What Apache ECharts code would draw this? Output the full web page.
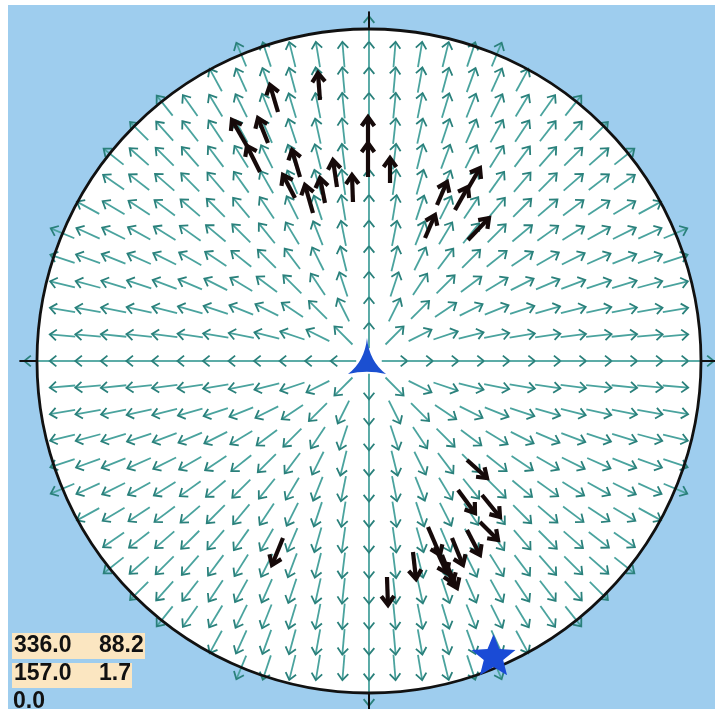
<!DOCTYPE html>
<html>
<head>
<meta charset="utf-8">
<title>stereonet</title>
<script src="https://cdn.jsdelivr.net/npm/echarts@6/dist/echarts.min.js"></script>
<style>
html,body{margin:0;padding:0;background:#fff;}
#main{width:715px;height:709px;}
</style>
</head>
<body>
<div id="main"></div>
<script>
// black slip arrows: [tail x, tail y, head x, head y], net radius = 100
var slipTop = [
 [-14.76, 78.61, -15.36, 86.75],
 [-27.41, 75.00, -29.82, 83.13],
 [-36.75, 64.76, -41.27, 72.59],
 [-32.83, 56.93, -36.75, 64.76],
 [-30.42, 65.66, -33.43, 73.19],
 [-20.78, 55.42, -23.19, 63.55],
 [-22.29, 49.10, -25.90, 56.02],
 [-16.87, 44.58, -19.28, 53.01],
 [-13.25, 47.59, -14.76, 55.12],
 [-9.64, 52.41, -10.84, 60.54],
 [-4.82, 47.89, -5.12, 56.02],
 [-0.30, 65.66, -0.30, 73.49],
 [-0.30, 55.42, -0.30, 65.66],
 [6.33, 53.61, 6.33, 61.14]
];
var slipRight = [
 [20.48, 46.99, 23.49, 53.92],
 [16.87, 37.05, 19.88, 43.98],
 [29.22, 50.90, 33.43, 58.13],
 [25.90, 45.48, 29.82, 52.41],
 [29.82, 36.45, 36.14, 43.07]
];
var slipBottom = [
 [29.52, -29.82, 35.54, -35.24],
 [26.81, -38.86, 31.93, -45.78],
 [34.04, -40.36, 39.46, -46.99],
 [33.43, -48.49, 38.86, -53.92],
 [29.52, -50.90, 33.43, -58.43],
 [25.00, -53.31, 28.31, -61.45],
 [17.77, -50.00, 21.39, -58.43],
 [19.88, -56.02, 23.49, -63.86],
 [21.99, -58.43, 25.30, -66.87],
 [23.49, -61.45, 26.51, -68.37],
 [13.25, -57.53, 14.16, -65.66],
 [5.42, -65.06, 5.72, -73.49],
 [-25.90, -53.31, -29.22, -61.45]
];
var axisTriangle = [[-0.6, 1.5]];
var axisStar = [[37.5, -88.5]];
var trendLabels = ['336.0', '157.0', '0.0'];
var plungeLabels = ['88.2', '1.7'];
var netRadius = 100;
var fieldSteps = 13;

var step = netRadius / fieldSteps;
var fieldData = [];
for (var i = -fieldSteps; i <= fieldSteps; i++) {
  for (var j = -fieldSteps; j <= fieldSteps; j++) {
    var fx = i * step, fy = j * step;
    if ((i || j) && Math.sqrt(fx * fx + fy * fy) <= netRadius + 0.01) fieldData.push([fx, fy]);
  }
}

function arrowShape(p0, p1, headLen, headAng, color, width, headColor) {
  var a = Math.atan2(p1[1] - p0[1], p1[0] - p0[0]);
  var w1 = [p1[0] - headLen * Math.cos(a - headAng), p1[1] - headLen * Math.sin(a - headAng)];
  var w2 = [p1[0] - headLen * Math.cos(a + headAng), p1[1] - headLen * Math.sin(a + headAng)];
  return {
    type: 'group',
    children: [
      {type: 'line', shape: {x1: p0[0], y1: p0[1], x2: p1[0], y2: p1[1]}, style: {stroke: color, lineWidth: width}},
      {type: 'polyline', shape: {points: [w1, p1, w2]}, style: {stroke: headColor || color, lineWidth: width, fill: null, lineJoin: 'miter'}}
    ]
  };
}

function slipSeries(name, data) {
  return {
    name: name,
    type: 'custom',
    z: 5,
    silent: true,
    data: data,
    renderItem: function (params, api) {
      var p0 = api.coord([api.value(0), api.value(1)]);
      var p1 = api.coord([api.value(2), api.value(3)]);
      return arrowShape(p0, p1, 11, 0.62, '#160a0a', 4.2);
    }
  };
}

var myChart = echarts.init(document.getElementById('main'));

var option = {
  animation: false,
  grid: {left: 8, top: 5, right: 0, bottom: 0, show: true, backgroundColor: '#9ecdee', borderWidth: 0},
  xAxis: {type: 'value', min: -108.73, max: 104.22, show: false},
  yAxis: {type: 'value', min: -104.82, max: 107.23, show: false},
  series: [
    {
      // white net
      type: 'custom',
      z: 1,
      silent: true,
      data: [[0, 0]],
      renderItem: function (params, api) {
        var c = api.coord([0, 0]);
        var r = api.size([netRadius, 0])[0];
        return {type: 'circle', shape: {cx: c[0], cy: c[1], r: r}, style: {fill: '#ffffff', stroke: null}};
      }
    },
    {
      // radial field
      type: 'custom',
      z: 2,
      silent: true,
      data: fieldData,
      renderItem: function (params, api) {
        var x = api.value(0), y = api.value(1);
        var d = Math.sqrt(x * x + y * y);
        var ux = x / d, uy = y / d, h = step / 2;
        var p0 = api.coord([x - ux * h, y - uy * h]);
        var p1 = api.coord([x + ux * h, y + uy * h]);
        return arrowShape(p0, p1, 8.5, 0.68, '#4aa39e', 1.8, '#2a807b');
      }
    },
    {
      // border and N/E/S/W ticks
      type: 'custom',
      z: 3,
      silent: true,
      data: [[0, 0]],
      renderItem: function (params, api) {
        var c = api.coord([0, 0]);
        var r = api.size([netRadius, 0])[0];
        var t = api.size([5.3, 0])[0];
        return {
          type: 'group',
          children: [
            {type: 'circle', shape: {cx: c[0], cy: c[1], r: r}, style: {fill: null, stroke: '#111', lineWidth: 2.8}},
            {type: 'line', shape: {x1: c[0], y1: c[1] - r, x2: c[0], y2: c[1] - r - t}, style: {stroke: '#111', lineWidth: 2}},
            {type: 'line', shape: {x1: c[0], y1: c[1] + r, x2: c[0], y2: c[1] + r + t}, style: {stroke: '#111', lineWidth: 2}},
            {type: 'line', shape: {x1: c[0] - r, y1: c[1], x2: c[0] - r - t, y2: c[1]}, style: {stroke: '#111', lineWidth: 2}},
            {type: 'line', shape: {x1: c[0] + r, y1: c[1], x2: c[0] + r + t, y2: c[1]}, style: {stroke: '#111', lineWidth: 2}}
          ]
        };
      }
    },
    slipSeries('top', slipTop),
    slipSeries('right', slipRight),
    slipSeries('bottom', slipBottom),
    {
      type: 'scatter',
      z: 6,
      silent: true,
      symbol: 'path://M50,0 Q56,62 100,96 Q50,84 0,96 Q44,62 50,0 Z',
      symbolSize: [38, 36],
      itemStyle: {color: '#1b4fd1', opacity: 1},
      data: axisTriangle
    },
    {
      type: 'scatter',
      z: 6,
      silent: true,
      symbol: 'path://M50,0 L62.93,32.2 L97.55,34.55 L70.92,56.8 L79.39,90.45 L50,72 L20.61,90.45 L29.08,56.8 L2.45,34.55 L37.07,32.2 Z',
      symbolSize: [44, 41],
      itemStyle: {color: '#1a4bd6', opacity: 1},
      data: axisStar
    }
  ],
  graphic: [
    {type: 'rect', shape: {x: 12, y: 633, width: 133, height: 26}, style: {fill: '#fbe6c1'}, z: 10},
    {type: 'rect', shape: {x: 12, y: 663, width: 120, height: 25}, style: {fill: '#fbe6c1'}, z: 10},
    {type: 'text', x: 14, y: 634, z: 11, style: {text: trendLabels[0], font: 'bold 23px "Liberation Sans", Arial', fill: '#111'}},
    {type: 'text', x: 99, y: 634, z: 11, style: {text: plungeLabels[0], font: 'bold 23px "Liberation Sans", Arial', fill: '#111'}},
    {type: 'text', x: 14, y: 662, z: 11, style: {text: trendLabels[1], font: 'bold 23px "Liberation Sans", Arial', fill: '#111'}},
    {type: 'text', x: 99, y: 662, z: 11, style: {text: plungeLabels[1], font: 'bold 23px "Liberation Sans", Arial', fill: '#111'}},
    {type: 'text', x: 13, y: 690, z: 11, style: {text: trendLabels[2], font: 'bold 23px "Liberation Sans", Arial', fill: '#111'}}
  ]
};

myChart.setOption(option);
</script>
</body>
</html>
